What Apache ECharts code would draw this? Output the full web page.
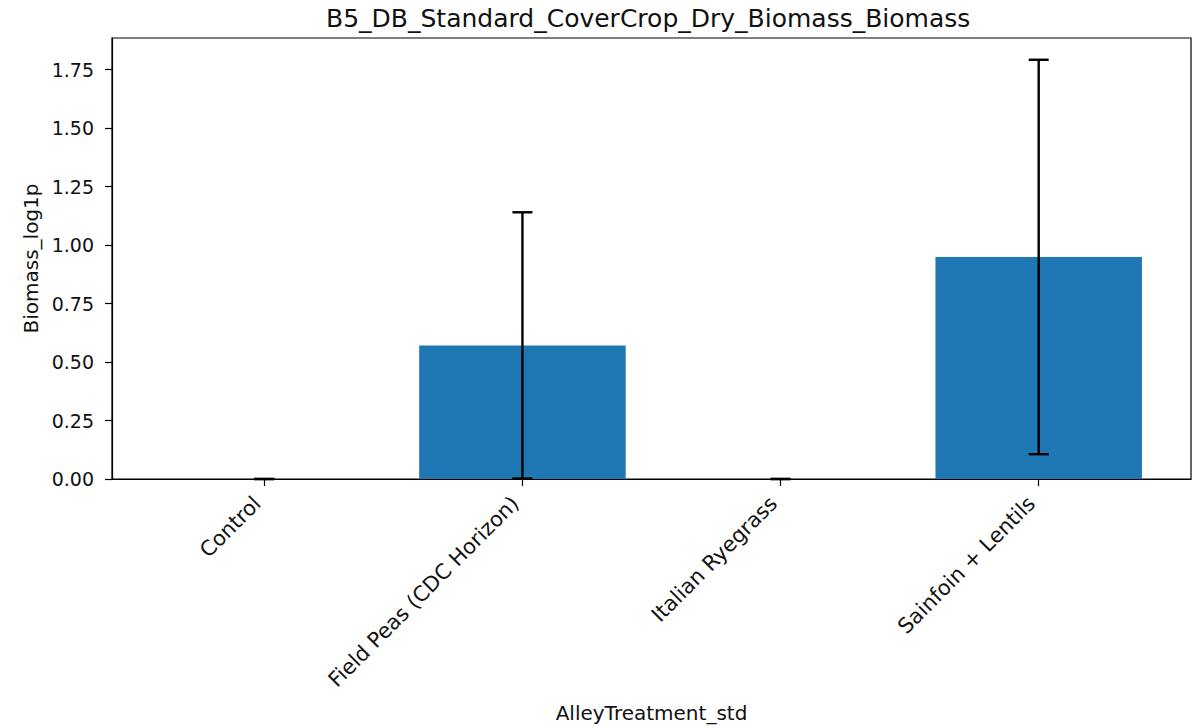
<!DOCTYPE html>
<html>
<head>
<meta charset="utf-8">
<script src="https://cdn.jsdelivr.net/npm/echarts@6/dist/echarts.min.js"></script>
<style>
  html, body { margin: 0; padding: 0; background: #fff; }
  #chart { width: 1196px; height: 728px; }
</style>
</head>
<body>
<div id="chart"></div>
<script>
// Cover-crop dry biomass (log1p) by alley treatment, mean ± error
const categories = ['Control', 'Field Peas (CDC Horizon)', 'Italian Ryegrass', 'Sainfoin + Lentils'];
const means = [0, 0.571, 0, 0.949];
const errors = [0, 0.569, 0, 0.843];
const yTicks = [0, 0.25, 0.5, 0.75, 1.0, 1.25, 1.5, 1.75];
const titleText = 'B5_DB_Standard_CoverCrop_Dry_Biomass_Biomass';
const xName = 'AlleyTreatment_std';
const yName = 'Biomass_log1p';

const positions = categories.map((_, i) => i);
const barData = positions.map(i => [i, means[i]]);
const errData = positions.map(i => [i, means[i] - errors[i], means[i] + errors[i]]);

const FONT = 'DejaVu Sans';
const INK = '#111';

const chart = echarts.init(document.getElementById('chart'), null, { renderer: 'svg' });

chart.setOption({
  animation: false,
  backgroundColor: '#fff',
  textStyle: { fontFamily: FONT, color: INK },
  title: {
    text: titleText,
    left: 326,
    top: 6,
    padding: 0,
    textStyle: { fontFamily: FONT, fontSize: 25, fontWeight: 'normal', color: INK }
  },
  grid: {
    left: 112, right: 5, top: 38, bottom: 249,
    show: true, borderColor: '#000', borderWidth: 1.2, backgroundColor: 'transparent'
  },
  xAxis: {
    type: 'value',
    min: -0.59,
    max: 3.59,
    z: 10,
    name: xName,
    nameLocation: 'middle',
    nameGap: 224,
    nameTextStyle: { fontFamily: FONT, fontSize: 20, color: INK, verticalAlign: 'top' },
    axisLine: { show: true, onZero: false, lineStyle: { color: '#000', width: 1.2 } },
    axisTick: { show: true, inside: false, length: 7, customValues: positions, lineStyle: { color: '#000', width: 1.2 } },
    axisLabel: {
      customValues: positions,
      rotate: 45,
      margin: 14,
      padding: [0, 10, 0, 0],
      fontFamily: FONT, fontSize: 21, color: INK,
      formatter: v => categories[Math.round(v)]
    },
    splitLine: { show: false }
  },
  yAxis: {
    type: 'value',
    min: 0,
    max: 1.885,
    z: 10,
    name: yName,
    nameLocation: 'middle',
    nameGap: 70,
    nameTextStyle: { fontFamily: FONT, fontSize: 20, color: INK },
    axisLine: { show: true, onZero: false, lineStyle: { color: '#000', width: 1.2 } },
    axisTick: { show: true, inside: false, length: 7, customValues: yTicks, lineStyle: { color: '#000', width: 1.2 } },
    axisLabel: {
      customValues: yTicks,
      margin: 18,
      fontFamily: FONT, fontSize: 19, color: INK,
      formatter: v => v.toFixed(2)
    },
    splitLine: { show: false }
  },
  series: [
    {
      type: 'bar',
      data: barData,
      barWidth: '80%',
      itemStyle: { color: '#1f77b4' }
    },
    {
      type: 'custom',
      data: errData,
      encode: { x: 0, y: [1, 2] },
      z: 5,
      renderItem: (params, api) => {
        const x = api.value(0);
        const lo = api.coord([x, api.value(1)]);
        const hi = api.coord([x, api.value(2)]);
        const cap = 10;
        const style = { stroke: '#000', lineWidth: 2.4 };
        return {
          type: 'group',
          children: [
            { type: 'line', shape: { x1: hi[0], y1: hi[1], x2: lo[0], y2: lo[1] }, style },
            { type: 'line', shape: { x1: hi[0] - cap, y1: hi[1], x2: hi[0] + cap, y2: hi[1] }, style },
            { type: 'line', shape: { x1: lo[0] - cap, y1: lo[1], x2: lo[0] + cap, y2: lo[1] }, style }
          ]
        };
      }
    }
  ]
});
</script>
</body>
</html>
